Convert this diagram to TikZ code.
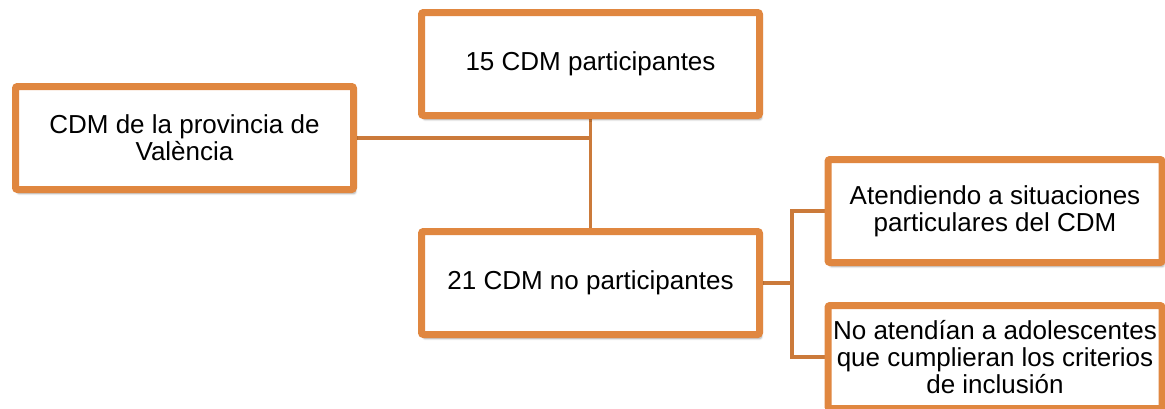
\documentclass[tikz,border=0pt]{standalone}
\usepackage{fontspec}
\setmainfont{Liberation Sans}
\usetikzlibrary{backgrounds,shadows.blur}
\definecolor{boxorange}{HTML}{E08740}
\definecolor{linkorange}{HTML}{CB7A3A}
\tikzset{
  box/.style={draw=boxorange, fill=white, line width=7pt, rounded corners=2pt,
    minimum width=338pt, minimum height=103pt, inner sep=0pt, align=center,
    font=\fontsize{26}{27}\selectfont,
    blur shadow={shadow xshift=2pt, shadow yshift=-4pt, shadow blur steps=6, shadow opacity=35}},
  link/.style={draw=linkorange, line width=3.5pt}
}
\begin{document}
\begin{tikzpicture}[x=1pt, y=-1pt]
  \useasboundingbox (0,0) rectangle (1165,408);
  \node[box] (prov) at (184.5,138) {CDM de la provincia de\\València};
  \node[box] (part) at (590.5,64) {15 CDM participantes};
  \node[box] (nopart) at (590.5,283) {21 CDM no participantes};
  \node[box, minimum width=334pt] (sit) at (995,211) {Atendiendo a situaciones\\particulares del CDM};
  \node[box, minimum width=334pt] (ado) at (995,357) {No atendían a adolescentes\\que cumplieran los criterios\\de inclusión};
  \coordinate (split) at (792,283);
  \begin{scope}[on background layer]
    \draw[link] (prov.east) -| (part.south);
    \draw[link] (part.south) -- (nopart.north);
    \draw[link] (nopart.east) -- (split);
    \draw[link] (sit.west) -| (split);
    \draw[link] (ado.west) -| (split);
  \end{scope}
\end{tikzpicture}
\end{document}
